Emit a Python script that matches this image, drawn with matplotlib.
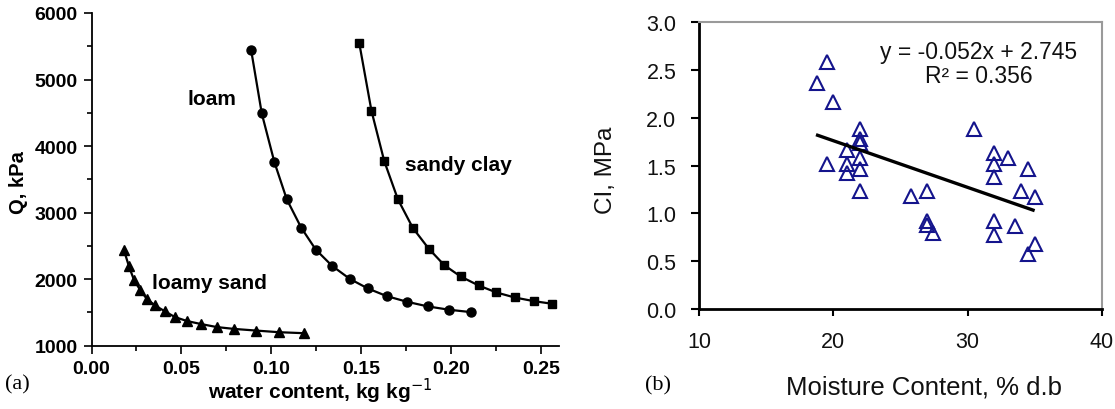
import matplotlib
matplotlib.use("Agg")
import matplotlib.pyplot as plt
from matplotlib.ticker import MultipleLocator

# ---------------- data: panel (a) ----------------
loam_x = [0.0888, 0.0947, 0.1017, 0.1086, 0.1166, 0.1247, 0.1338, 0.1436,
          0.1537, 0.1642, 0.1755, 0.1871, 0.1990, 0.2109]
loam_y = [5440, 4490, 3760, 3200, 2775, 2445, 2200, 2005,
          1860, 1745, 1660, 1590, 1540, 1505]

clay_x = [0.1489, 0.1557, 0.1628, 0.1704, 0.1787, 0.1875, 0.1962, 0.2053,
          0.2153, 0.2252, 0.2353, 0.2459, 0.2562]
clay_y = [5550, 4530, 3775, 3200, 2770, 2460, 2210, 2040,
          1905, 1800, 1725, 1670, 1630]

lsand_x = [0.0180, 0.0208, 0.0236, 0.0270, 0.0307, 0.0353, 0.0409, 0.0464,
           0.0532, 0.0610, 0.0697, 0.0794, 0.0913, 0.1041, 0.1181]
lsand_y = [2440, 2195, 1990, 1840, 1705, 1605, 1515, 1430,
           1370, 1325, 1280, 1252, 1228, 1203, 1188]

# ---------------- data: panel (b) ----------------
mc = [18.75, 19.5, 20.0, 19.5, 21.0, 21.0, 21.0,
      22.0, 22.0, 22.0, 22.0, 22.0, 22.0,
      25.8, 27.0, 26.95, 27.0, 27.4,
      30.5, 32.0, 32.0, 33.0, 32.0, 34.5, 34.0, 35.0,
      32.0, 32.0, 33.5, 35.0, 34.5]
ci = [2.37, 2.58, 2.17, 1.52, 1.66, 1.52, 1.42,
      1.88, 1.78, 1.74, 1.58, 1.47, 1.23,
      1.18, 1.23, 0.92, 0.88, 0.80,
      1.88, 1.63, 1.52, 1.58, 1.38, 1.47, 1.23, 1.17,
      0.92, 0.77, 0.87, 0.68, 0.575]
trend_x = [18.7, 35.0]
trend_y = [1.824, 1.029]

W, H = 1115, 410
fig = plt.figure(figsize=(W / 100, H / 100), dpi=100)

SANS = ["Liberation Sans", "DejaVu Sans"]
SERIF = ["Liberation Serif", "DejaVu Serif"]

# ================= panel (a) =================
axa = fig.add_axes([91.5 / W, (H - 346.7) / H, 467.5 / W, 332.7 / H])
axa.plot(loam_x, loam_y, color="black", lw=1.6, marker="o", ms=6.5)
axa.plot(clay_x, clay_y, color="black", lw=1.6, marker="s", ms=5.5)
axa.plot(lsand_x, lsand_y, color="black", lw=1.6, marker="^", ms=6.5)
axa.set_xlim(0, 0.26)
axa.set_ylim(1000, 6000)
for s in ("top", "right"):
    axa.spines[s].set_visible(False)
for s in ("left", "bottom"):
    axa.spines[s].set_linewidth(1.3)
axa.xaxis.set_major_locator(MultipleLocator(0.05))
axa.xaxis.set_minor_locator(MultipleLocator(0.025))
axa.yaxis.set_major_locator(MultipleLocator(1000))
axa.yaxis.set_minor_locator(MultipleLocator(500))
axa.set_xticks([0.0, 0.05, 0.10, 0.15, 0.20, 0.25])
axa.set_xticklabels(["0.00", "0.05", "0.10", "0.15", "0.20", "0.25"])
axa.tick_params(which="major", direction="out", length=6, width=1.2, pad=4)
axa.tick_params(which="minor", direction="out", length=3.5, width=1.2)
for lab in axa.get_xticklabels() + axa.get_yticklabels():
    lab.set_family(SANS)
    lab.set_fontweight("bold")
    lab.set_fontsize(14)
axa.text(0.0672, 4714, "loam", family=SANS, fontweight="bold", fontsize=15,
         ha="center", va="center")
axa.text(0.2043, 3722, "sandy clay", family=SANS, fontweight="bold", fontsize=15,
         ha="center", va="center")
axa.text(0.0657, 1943, "loamy sand", family=SANS, fontweight="bold", fontsize=15,
         ha="center", va="center")
fig.text(18 / W, 1 - 183 / H, "Q, kPa", family=SANS, fontweight="bold",
         fontsize=14.5, rotation=90, ha="center", va="center")
fig.text(320 / W, 1 - 391 / H, "water content, kg kg$^{-1}$", family=SANS,
         fontweight="bold", fontsize=15, ha="center", va="center")
fig.text(17 / W, 1 - 385 / H, "(a)", family=SERIF, fontsize=16,
         ha="center", va="center")

# ================= panel (b) =================
axb = fig.add_axes([699.3 / W, (H - 310) / H, 402.4 / W, 286.7 / H])
axb.plot(mc, ci, linestyle="none", marker="^", ms=10.5, mfc="none",
         mec="#14148c", mew=1.5)
axb.plot(trend_x, trend_y, color="black", lw=2.4, solid_capstyle="butt")
axb.set_xlim(10, 40)
axb.set_ylim(0, 3.0)
axb.set_xticks([10, 20, 30, 40])
axb.set_yticks([0.0, 0.5, 1.0, 1.5, 2.0, 2.5, 3.0])
axb.set_yticklabels(["0.0", "0.5", "1.0", "1.5", "2.0", "2.5", "3.0"])
for s in ("left", "bottom"):
    axb.spines[s].set_linewidth(2.0)
    axb.spines[s].set_color("black")
for s in ("top", "right"):
    axb.spines[s].set_linewidth(1.5)
    axb.spines[s].set_color("#9a9a9a")
axb.tick_params(axis="y", direction="out", length=5.5, width=1.5, pad=11)
axb.tick_params(axis="x", direction="out", length=5, width=1.5, pad=11)
for lab in axb.get_xticklabels() + axb.get_yticklabels():
    lab.set_family(SANS)
    lab.set_fontsize(15.5)
    lab.set_color("#111111")
fig.text(978.5 / W, 1 - 52 / H, "y = -0.052x + 2.745", family=SANS, fontsize=16.5,
         ha="center", va="center", color="#111111")
fig.text(978.5 / W, 1 - 77 / H, "R\u00b2 = 0.356", family=SANS, fontsize=16.5,
         ha="center", va="center", color="#111111")
fig.text(606 / W, 1 - 170 / H, "CI, MPa", family=SANS, fontsize=17.5,
         rotation=90, ha="center", va="center", color="#111111")
fig.text(924 / W, 1 - 388 / H, "Moisture Content, % d.b", family=SANS,
         fontsize=18.5, ha="center", va="center", color="#111111")
fig.text(658 / W, 1 - 386 / H, "(b)", family=SERIF, fontsize=16,
         ha="center", va="center")

fig.savefig("out.png", dpi=100)
